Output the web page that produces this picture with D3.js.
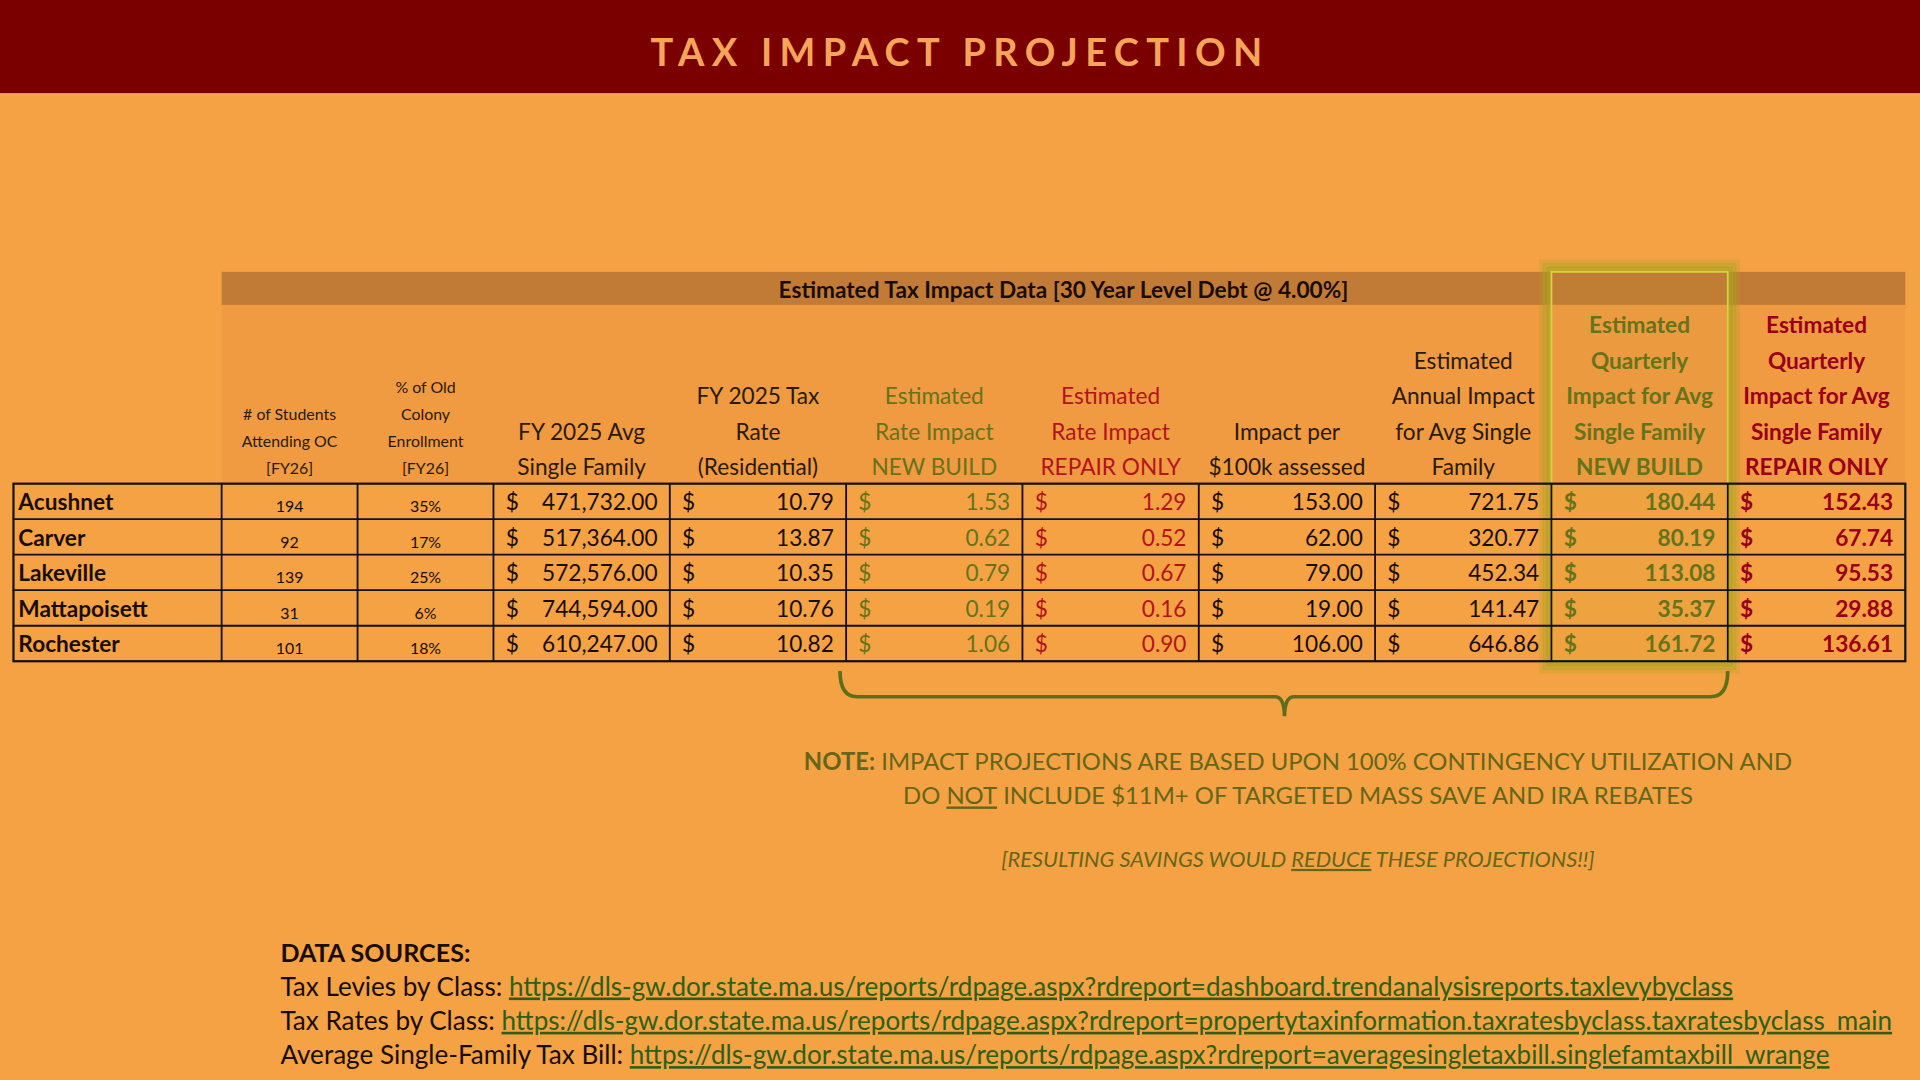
<!DOCTYPE html>
<html><head><meta charset="utf-8">
<script src="https://cdn.jsdelivr.net/npm/d3@7"></script>
<style>body{margin:0;background:#f4a243;overflow:hidden}svg{display:block}</style>
</head><body><svg id="c"></svg>
<script>
const towns = ["Acushnet", "Carver", "Lakeville", "Mattapoisett", "Rochester"];
const students = [194, 92, 139, 31, 101];
const enrollPct = ["35%", "17%", "25%", "6%", "18%"];
const avgSingle = [471732, 517364, 572576, 744594, 610247];
const taxRate = [10.79, 13.87, 10.35, 10.76, 10.82];
const rateNew = [1.53, 0.62, 0.79, 0.19, 1.06];
const rateRepair = [1.29, 0.52, 0.67, 0.16, 0.90];
const per100k = [153, 62, 79, 19, 106];
const annualImpact = [721.75, 320.77, 452.34, 141.47, 646.86];
const quarterNew = [180.44, 80.19, 113.08, 35.37, 161.72];
const quarterRepair = [152.43, 67.74, 95.53, 29.88, 136.61];

const headers = [
  [],
  ["# of Students", "Attending OC", "[FY26]"],
  ["% of Old", "Colony", "Enrollment", "[FY26]"],
  ["FY 2025 Avg", "Single Family"],
  ["FY 2025 Tax", "Rate", "(Residential)"],
  ["Estimated", "Rate Impact", "NEW BUILD"],
  ["Estimated", "Rate Impact", "REPAIR ONLY"],
  ["Impact per", "$100k assessed"],
  ["Estimated", "Annual  Impact", "for Avg Single", "Family"],
  ["Estimated", "Quarterly", "Impact for Avg", "Single Family", "NEW BUILD"],
  ["Estimated", "Quarterly", "Impact for Avg", "Single Family", "REPAIR ONLY"]
];

const W = 1568, H = 882;
const svg = d3.select("#c").attr("width", 1920).attr("height", 1080)
  .attr("viewBox", `0 0 ${W} ${H}`).style("font-family", "Lato, 'Open Sans', sans-serif");

const GREEN = "#66731a", RED = "#b3141a", DRED = "#9a0018";
const colW = [170, 111, 111, 144, 144, 144, 144, 144, 144, 144, 145];
const edges = [11];
colW.forEach(w => edges.push(edges[edges.length - 1] + w));
const x = i => edges[i];
const y = d3.scaleBand().domain(towns).range([395, 540]);

svg.append("rect").attr("width", W).attr("height", H).attr("fill", "#f4a243");
svg.append("rect").attr("width", W).attr("height", 76).attr("fill", "#7a0000");
svg.append("text").attr("x", W / 2).attr("y", 54).attr("text-anchor", "middle")
  .attr("fill", "#f5a55a").attr("font-size", 31).attr("font-weight", 700)
  .attr("letter-spacing", 6).text("TAX IMPACT PROJECTION");

// header zone
svg.append("rect").attr("x", x(1)).attr("y", 249).attr("width", x(11) - x(1)).attr("height", 146).attr("fill", "#f09a42");
svg.append("rect").attr("x", x(1)).attr("y", 222).attr("width", x(11) - x(1)).attr("height", 27).attr("fill", "#c27b36");
svg.append("text").attr("x", (x(1) + x(11)) / 2).attr("y", 243).attr("text-anchor", "middle")
  .attr("font-size", 18.5).attr("font-weight", 700).attr("fill", "#1a0d00")
  .text("Estimated Tax Impact Data [30 Year Level Debt @ 4.00%]");

// highlight box
const hl = svg.append("g");
[8, 5, 2].forEach((p, k) => hl.append("rect").attr("x", x(9) - p).attr("y", 222 - p)
  .attr("width", x(10) - x(9) + 2 * p).attr("height", 318 + 2 * p)
  .attr("fill", "none").attr("stroke", "#a6a51e").attr("stroke-opacity", 0.25 + k * 0.2).attr("stroke-width", 4));
hl.append("rect").attr("x", x(9)).attr("y", 222).attr("width", x(10) - x(9)).attr("height", 318)
  .attr("fill", "#b4a82a").attr("fill-opacity", 0.08).attr("stroke", "#d7d040").attr("stroke-width", 1.5);

const hColor = [null, "#2a1a00", "#2a1a00", "#2a1a00", "#2a1a00", GREEN, RED, "#2a1a00", "#2a1a00", GREEN, DRED];
headers.forEach((lines, i) => {
  if (!lines.length) return;
  const small = i <= 2;
  const step = small ? 22 : 29;
  const bottom = small ? 387 : 388;
  lines.forEach((t, j) => {
    svg.append("text").attr("x", (x(i) + x(i + 1)) / 2)
      .attr("y", bottom - (lines.length - 1 - j) * step).attr("text-anchor", "middle")
      .attr("font-size", small ? 13 : 18.5).attr("fill", hColor[i])
      .attr("font-weight", i >= 9 ? 700 : 400).text(t);
  });
});

// table grid
const g = svg.append("g");
g.append("rect").attr("x", x(0)).attr("y", 395).attr("width", x(11) - x(0)).attr("height", 145)
  .attr("fill", "none").attr("stroke", "#111").attr("stroke-width", 1.8);
towns.slice(1).forEach(t => g.append("line").attr("x1", x(0)).attr("x2", x(11))
  .attr("y1", y(t)).attr("y2", y(t)).attr("stroke", "#111").attr("stroke-width", 1.5));
edges.slice(1, 11).forEach(e => g.append("line").attr("x1", e).attr("x2", e)
  .attr("y1", 395).attr("y2", 540).attr("stroke", "#111").attr("stroke-width", 1.5));

const fmt2 = d3.format(",.2f");
const money = [
  [3, avgSingle, "#1a0d00", 400], [4, taxRate, "#1a0d00", 400], [5, rateNew, GREEN, 400],
  [6, rateRepair, RED, 400], [7, per100k, "#1a0d00", 400], [8, annualImpact, "#1a0d00", 400],
  [9, quarterNew, GREEN, 700], [10, quarterRepair, DRED, 700]
];
towns.forEach((t, r) => {
  const cy = y(t) + y.bandwidth() / 2 + 7;
  svg.append("text").attr("x", x(0) + 4).attr("y", cy).attr("font-size", 18.5).attr("font-weight", 700)
    .attr("fill", "#1a0d00").text(t);
  svg.append("text").attr("x", (x(1) + x(2)) / 2).attr("y", cy + 2).attr("text-anchor", "middle")
    .attr("font-size", 13).attr("fill", "#1a0d00").text(students[r]);
  svg.append("text").attr("x", (x(2) + x(3)) / 2).attr("y", cy + 2).attr("text-anchor", "middle")
    .attr("font-size", 13).attr("fill", "#1a0d00").text(enrollPct[r]);
  money.forEach(([c, arr, col, fw]) => {
    svg.append("text").attr("x", x(c) + 10).attr("y", cy).attr("font-size", 18.5)
      .attr("fill", col).attr("font-weight", fw).text("$");
    svg.append("text").attr("x", x(c + 1) - 10).attr("y", cy).attr("text-anchor", "end")
      .attr("font-size", 18.5).attr("fill", col).attr("font-weight", fw).text(fmt2(arr[r]));
  });
});

// bracket
const bx0 = x(5) - 5, bx1 = x(10), bm = 1049;
svg.append("path").attr("fill", "none").attr("stroke", "#5f6e1a").attr("stroke-width", 3)
  .attr("d", `M${bx0},548 Q${bx0},569 ${bx0 + 14},569 L${bm - 8},569 Q${bm},569 ${bm},585 Q${bm},569 ${bm + 8},569 L${bx1 - 14},569 Q${bx1},569 ${bx1},548`);

// note
const note = svg.append("g").attr("fill", "#66661a").attr("font-size", 19.5).attr("text-anchor", "middle");
const n1 = note.append("text").attr("x", 1060).attr("y", 629);
n1.append("tspan").attr("font-weight", 700).text("NOTE:");
n1.append("tspan").text(" IMPACT PROJECTIONS ARE BASED UPON 100% CONTINGENCY UTILIZATION AND");
const n2 = note.append("text").attr("x", 1060).attr("y", 657);
n2.append("tspan").text("DO ");
n2.append("tspan").attr("text-decoration", "underline").text("NOT");
n2.append("tspan").text(" INCLUDE $11M+ OF TARGETED MASS SAVE AND IRA REBATES");
const n3 = note.append("text").attr("x", 1060).attr("y", 708).attr("font-size", 17.8).attr("font-style", "italic");
n3.append("tspan").text("[RESULTING SAVINGS WOULD ");
n3.append("tspan").attr("text-decoration", "underline").text("REDUCE");
n3.append("tspan").text(" THESE PROJECTIONS!!]");

// sources
const sources = [
  ["Tax Levies by Class: ", "https://dls-gw.dor.state.ma.us/reports/rdpage.aspx?rdreport=dashboard.trendanalysisreports.taxlevybyclass"],
  ["Tax Rates by Class: ", "https://dls-gw.dor.state.ma.us/reports/rdpage.aspx?rdreport=propertytaxinformation.taxratesbyclass.taxratesbyclass_main"],
  ["Average Single-Family Tax Bill: ", "https://dls-gw.dor.state.ma.us/reports/rdpage.aspx?rdreport=averagesingletaxbill.singlefamtaxbill_wrange"]
];
svg.append("text").attr("x", 229).attr("y", 786).attr("font-size", 20.5).attr("font-weight", 700)
  .attr("fill", "#1a0d00").text("DATA SOURCES:");
sources.forEach((s, i) => {
  const t = svg.append("text").attr("x", 229).attr("y", 813 + i * 28).attr("font-size", 21.3).attr("fill", "#1a0d00");
  t.append("tspan").text(s[0]);
  t.append("tspan").attr("fill", "#2f5f14").attr("text-decoration", "underline").text(s[1]);
});
</script></body></html>
